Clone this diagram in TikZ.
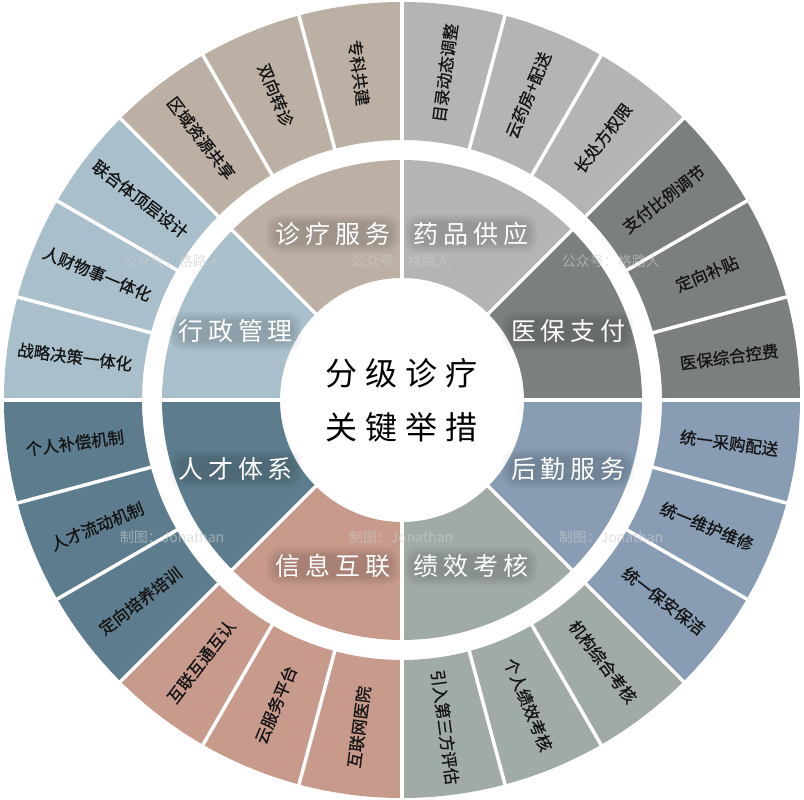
\documentclass[tikz,border=0pt]{standalone}
\usepackage{fontspec}
\setmainfont{Noto Sans CJK SC}
\newfontfamily\cjk{Noto Sans CJK SC}
\newfontfamily\cjkitem[FakeBold=0.8]{Noto Sans CJK SC}
\newfontfamily\cjkwide[LetterSpace=19]{Noto Sans CJK SC}
\newfontfamily\cjkhub[LetterSpace=25]{Noto Sans CJK SC}
\usetikzlibrary{calc}

\definecolor{drugc}{RGB}{180,180,180}
\definecolor{payc}{RGB}{123,128,124}
\definecolor{logc}{RGB}{136,157,180}
\definecolor{perfc}{RGB}{161,171,166}
\definecolor{infoc}{RGB}{200,154,139}
\definecolor{talentc}{RGB}{93,125,142}
\definecolor{adminc}{RGB}{169,191,203}
\definecolor{carec}{RGB}{188,176,164}
\definecolor{wmarkc}{RGB}{205,205,205}

\tikzset{
  gap/.style={draw=white, line width=3.5pt},
  item/.style={font=\cjkitem\fontsize{16.5}{17}\selectfont, text=black!92, inner sep=0pt},
  sector label/.style={font=\cjkwide\fontsize{25}{26}\selectfont, text=white, inner sep=0pt},
  halo/.style={fill=black, opacity=.03, rounded corners=12pt},
  hub/.style={font=\cjkhub\fontsize{32}{54}\selectfont, text=black, align=center, inner sep=0pt},
  wmark/.style={font=\cjk\fontsize{14}{14}\selectfont, text=wmarkc, opacity=.6, inner sep=0pt}
}

\begin{document}
\begin{tikzpicture}[x=1pt,y=1pt]
\fill[white] (-402,-400) rectangle (402,400);
\useasboundingbox (-402,-400) rectangle (402,400);

% rings, sector by sector, clockwise from the top
\foreach \lab/\col/\ia/\ib/\ic [count=\i from 0] in {
  药品供应/drugc/目录动态调整/云药房+配送/长处方权限,
  医保支付/payc/支付比例调节/定向补贴/医保综合控费,
  后勤服务/logc/统一采购配送/统一维护维修/统一保安保洁,
  绩效考核/perfc/机构综合考核/个人绩效考核/引入第三方评估,
  信息互联/infoc/互联网医院/云服务平台/互联互通互认,
  人才体系/talentc/定向培养培训/人才流动机制/个人补偿机制,
  行政管理/adminc/战略决策一体化/人财物事一体化/联合体顶层设计,
  诊疗服务/carec/区域资源共享/双向转诊/专科共建}
{
  \pgfmathsetmacro\sa{90-45*\i}
  \pgfmathsetmacro\se{\sa-45}
  \pgfmathsetmacro\sm{\sa-22.5}
  \fill[\col] (\sa:122) -- (\sa:240) arc[start angle=\sa, end angle=\se, radius=240]
    -- (\se:122) arc[start angle=\se, end angle=\sa, radius=122] -- cycle;
  \fill[\col] (\sa:260) -- (\sa:398) arc[start angle=\sa, end angle=\se, radius=398]
    -- (\se:260) arc[start angle=\se, end angle=\sa, radius=260] -- cycle;
  % soft dark halo behind the sector name
  \foreach \s in {0,2,4,6,8}
    \fill[halo] ($(\sm:180)+(-58-\s,-11-\s)$) rectangle ($(\sm:180)+(58+\s,11+\s)$);
  \node[sector label] (sec-\i) at (\sm:180) {\lab};
  \foreach \txt [count=\j from 0] in {\ia,\ib,\ic}{
    \pgfmathsetmacro\t{\sa-7.5-15*\j}
    \pgfmathsetmacro\rot{cos(\t)>0 ? \t : \t+180}
    \node[item, rotate=\rot] (item-\i-\j) at (\t:330) {\txt};
  }
}

% white gaps
\foreach \k in {0,...,23}
  \draw[gap] ({90-15*\k}:257) -- ({90-15*\k}:401);
\foreach \k in {0,...,7}
  \draw[gap] ({90-45*\k}:119) -- ({90-45*\k}:243);

\node[hub] (hub) at (0,0) {分级诊疗\\关键举措};

% watermarks
\foreach \x [count=\k] in {-230,-1,209}{
  \node[wmark] (wm-top-\k) at (\x,139) {公众号：格路人};
  \node[wmark] (wm-bot-\k) at (\x,-137) {制图：Jonathan};
}
\end{tikzpicture}
\end{document}
